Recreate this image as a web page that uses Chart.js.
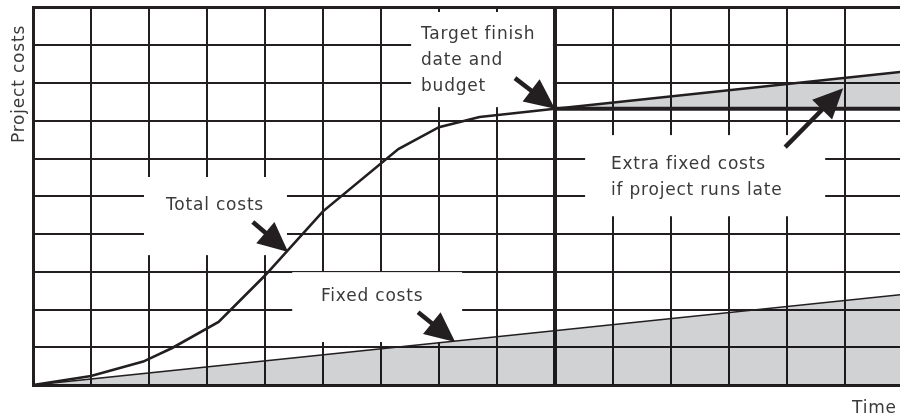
<!DOCTYPE html>
<html>
<head>
<meta charset="utf-8">
<script src="https://cdn.jsdelivr.net/npm/chart.js@4.4.1/dist/chart.umd.min.js"></script>
<style>
html,body{margin:0;padding:0;background:#fff;overflow:hidden}
#wrap{width:900px;height:417px}
</style>
</head>
<body>
<div id="wrap"><canvas id="c" width="900" height="417"></canvas></div>
<script>
// ---- data ----
const timeMax = 14.95;
const costMax = 10;
const totalX = [0, 1, 1.9, 2.4, 3.2, 4, 5, 6.3, 7, 7.7, 9];
const totalY = [0, 0.24, 0.62, 0.98, 1.67, 2.9, 4.6, 6.25, 6.83, 7.1, 7.32];
const fixedX = [0, 15];
const fixedY = [0, 2.4];
const budgetX = [9, 15];
const budgetY = [7.32, 7.32];
const extraX = [9, 15];
const extraY = [7.32, 8.3];
const targetTime = 9;

const axisLabels = { y: 'Project costs', x: 'Time' };
const notes = [
  { lines: ['Target finish', 'date and', 'budget'], x: 6.69, y: 9.16,
    box: [6.52, 9.88, 8.965, 7.36], arrow: [8.31, 8.13, 9, 7.32] },
  { lines: ['Total costs'], x: 2.293, y: 4.635,
    box: [1.914, 5.51, 4.379, 3.44], arrow: [3.79, 4.32, 4.40, 3.52] },
  { lines: ['Fixed costs'], x: 4.966, y: 2.225,
    box: [4.47, 2.99, 7.40, 1.14], arrow: [6.64, 1.93, 7.28, 1.14] },
  { lines: ['Extra fixed costs', 'if project runs late'], x: 9.966, y: 5.722,
    box: [9.52, 6.62, 13.66, 4.47], arrow: [12.97, 6.30, 13.97, 7.86] }
];

const pts = (xs, ys) => xs.map((x, i) => ({ x, y: ys[i] }));
const INK = '#231f20';
const TEXT = '#3a3a3a';
const FILL = 'rgba(0,5,16,0.18)';
const FONT = '17px "DejaVu Sans"';

function arrow(ctx, x0, y0, x1, y1) {
  const dx = x1 - x0, dy = y1 - y0, len = Math.hypot(dx, dy);
  const ux = dx / len, uy = dy / len;
  const L = 30, W = 14;
  const bx = x1 - ux * L, by = y1 - uy * L;
  ctx.save();
  ctx.strokeStyle = INK; ctx.fillStyle = INK;
  ctx.lineWidth = 4.5; ctx.lineCap = 'butt';
  ctx.beginPath(); ctx.moveTo(x0, y0); ctx.lineTo(bx + ux * 2, by + uy * 2); ctx.stroke();
  ctx.beginPath();
  ctx.moveTo(x1, y1);
  ctx.lineTo(bx - uy * W, by + ux * W);
  ctx.lineTo(bx + uy * W, by - ux * W);
  ctx.closePath(); ctx.fill();
  ctx.restore();
}

const overlay = {
  id: 'overlay',
  beforeDatasetsDraw(chart) {
    const { ctx, scales: { x, y } } = chart;
    ctx.save();
    ctx.fillStyle = '#ffffff';
    notes.forEach(n => {
      const [a, b, c, d] = n.box;
      const px = x.getPixelForValue(a), py = y.getPixelForValue(b);
      ctx.fillRect(px, py, x.getPixelForValue(c) - px, y.getPixelForValue(d) - py);
    });
    ctx.restore();
  },
  afterDatasetsDraw(chart) {
    const { ctx, scales: { x, y } } = chart;
    notes.forEach(n => {
      const a = n.arrow;
      arrow(ctx, x.getPixelForValue(a[0]), y.getPixelForValue(a[1]),
                 x.getPixelForValue(a[2]), y.getPixelForValue(a[3]));
    });
    ctx.save();
    ctx.font = FONT;
    ctx.fillStyle = TEXT;
    ctx.textBaseline = 'alphabetic';
    ctx.textAlign = 'left';
    try { ctx.letterSpacing = '0.8px'; } catch (e) {}
    notes.forEach(n => {
      const px = x.getPixelForValue(n.x), py = y.getPixelForValue(n.y);
      n.lines.forEach((t, i) => ctx.fillText(t, px, py + i * 26));
    });
    ctx.fillText(axisLabels.x, 852, 413);
    ctx.translate(24, 84);
    ctx.rotate(-Math.PI / 2);
    ctx.textAlign = 'center';
    ctx.fillText(axisLabels.y, 0, 0);
    ctx.restore();
  }
};

new Chart(document.getElementById('c'), {
  type: 'scatter',
  data: {
    datasets: [
      { label: 'Fixed costs', data: pts(fixedX, fixedY), showLine: true,
        borderColor: INK, borderWidth: 1.6, pointRadius: 0, fill: 'origin', backgroundColor: FILL },
      { label: 'Total costs', data: pts(totalX, totalY), showLine: true,
        borderColor: INK, borderWidth: 2.6, pointRadius: 0, fill: false, tension: 0 },
      { label: 'Budget', data: pts(budgetX, budgetY), showLine: true,
        borderColor: INK, borderWidth: 4, pointRadius: 0, fill: false },
      { label: 'Extra fixed costs', data: pts(extraX, extraY), showLine: true,
        borderColor: INK, borderWidth: 2.6, pointRadius: 0, fill: '-1', backgroundColor: FILL }
    ]
  },
  options: {
    responsive: false,
    animation: false,
    devicePixelRatio: 1,
    layout: { padding: { left: 33, top: 7.5, right: 0, bottom: 32 } },
    plugins: { legend: { display: false }, tooltip: { enabled: false } },
    scales: {
      x: {
        type: 'linear', min: 0, max: timeMax,
        afterBuildTicks: s => { s.ticks = s.ticks.filter(t => Number.isInteger(t.value)); },
        ticks: { display: false, stepSize: 1 },
        grid: { color: INK, drawTicks: false,
          lineWidth: c => (c.tick && c.tick.value === targetTime) ? 4 : 2 },
        border: { display: true, color: INK, width: 3 }
      },
      y: {
        type: 'linear', min: 0, max: costMax,
        ticks: { display: false, stepSize: 1 },
        grid: { color: INK, drawTicks: false,
          lineWidth: c => (c.tick && c.tick.value === costMax) ? 3 : 2 },
        border: { display: true, color: INK, width: 3 }
      }
    }
  },
  plugins: [overlay]
});
</script>
</body>
</html>
